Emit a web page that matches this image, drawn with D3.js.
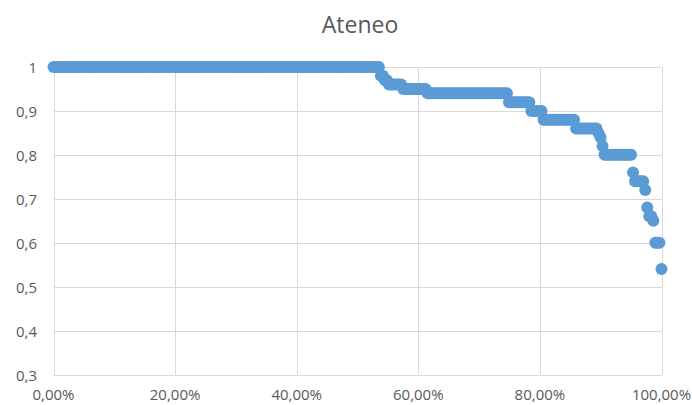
<!DOCTYPE html>
<html>
<head>
<meta charset="utf-8">
<script src="https://d3js.org/d3.v7.min.js"></script>
<style>
  html, body { margin: 0; padding: 0; background: #fff; }
  svg { display: block; }
  text { font-family: "Open Sans", "Liberation Sans", sans-serif; fill: #595959; }
</style>
</head>
<body>
<svg id="chart" width="692" height="405"></svg>
<script>
// Sorted values (descending) and how many observations share each value
const values = [1, 0.98, 0.97, 0.96, 0.95, 0.94, 0.92, 0.90, 0.88, 0.86, 0.85, 0.84, 0.82, 0.80, 0.76, 0.74, 0.72, 0.68, 0.66, 0.65, 0.60, 0.54];
const counts = [161, 2, 2, 7, 12, 40, 11, 6, 16, 11, 1, 1, 1, 14, 1, 5, 1, 1, 2, 1, 3, 1];
const yTicks = [0.3, 0.4, 0.5, 0.6, 0.7, 0.8, 0.9, 1];
const yTickLabels = ["0,3", "0,4", "0,5", "0,6", "0,7", "0,8", "0,9", "1"];
const xTicks = [0, 0.2, 0.4, 0.6, 0.8, 1];
const xTickLabels = ["0,00%", "20,00%", "40,00%", "60,00%", "80,00%", "100,00%"];
const title = "Ateneo";

// Expand into observation list; x is percentile rank
const obs = [];
values.forEach((v, k) => { for (let j = 0; j < counts[k]; j++) obs.push(v); });
const N = obs.length;
const points = obs.map((v, i) => ({ x: i / (N - 1), y: v }));

const svg = d3.select("#chart");
const x = d3.scaleLinear().domain([0, 1]).range([53.5, 661.5]);
const y = d3.scaleLinear().domain([0.3, 1]).range([374.5, 67]);

// Grid
const grid = svg.append("g");
grid.selectAll("line.h").data(yTicks).join("line")
  .attr("x1", x(0)).attr("x2", x(1))
  .attr("y1", d => Math.round(y(d)) + 0.5).attr("y2", d => Math.round(y(d)) + 0.5)
  .attr("stroke", "#d9d9d9").attr("stroke-width", 1);
grid.selectAll("line.v").data(xTicks).join("line")
  .attr("y1", y(0.3)).attr("y2", y(1))
  .attr("x1", d => Math.round(x(d)) + 0.5).attr("x2", d => Math.round(x(d)) + 0.5)
  .attr("stroke", "#d9d9d9").attr("stroke-width", 1);

// Y labels
svg.append("g").selectAll("text").data(yTicks).join("text")
  .attr("x", 37).attr("y", d => y(d))
  .attr("text-anchor", "end").attr("dominant-baseline", "central")
  .style("font-size", "15px")
  .text((d, i) => yTickLabels[i]);

// X labels
svg.append("g").selectAll("text").data(xTicks).join("text")
  .attr("x", d => x(d)).attr("y", 400)
  .attr("text-anchor", "middle")
  .style("font-size", "15px")
  .text((d, i) => xTickLabels[i]);

// Title
svg.append("text").attr("x", 360).attr("y", 33)
  .attr("text-anchor", "middle").style("font-size", "23px").text(title);

// Points
svg.append("g").selectAll("circle").data(points).join("circle")
  .attr("cx", d => x(d.x)).attr("cy", d => y(d.y))
  .attr("r", 6).attr("fill", "#5B9BD5");
</script>
</body>
</html>
